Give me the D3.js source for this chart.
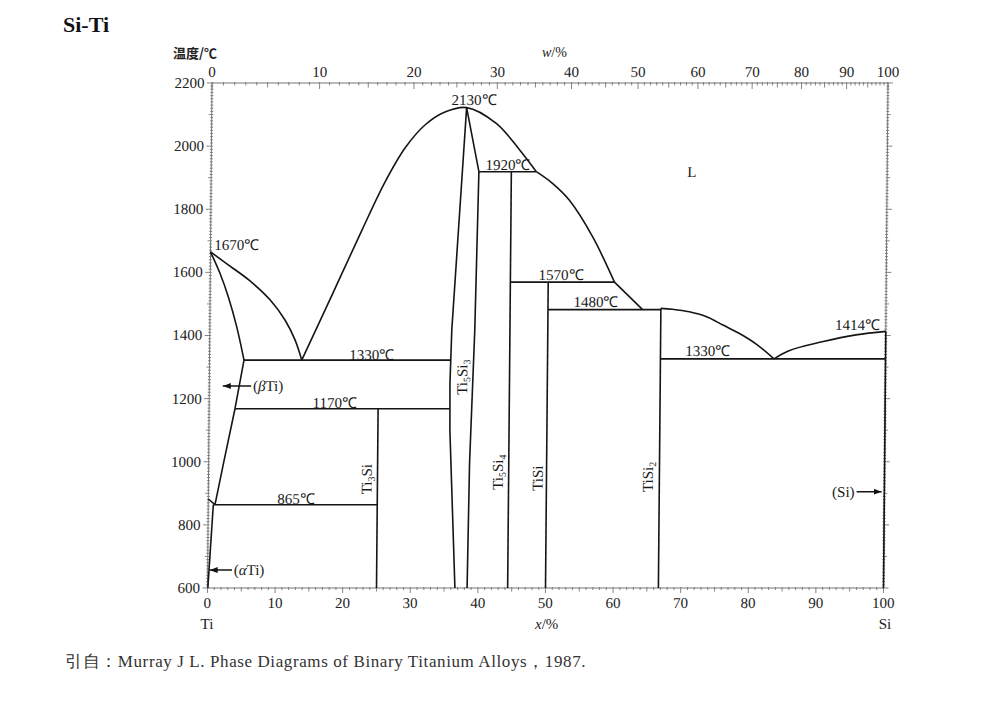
<!DOCTYPE html>
<html><head><meta charset="utf-8">
<script src="https://cdn.jsdelivr.net/npm/d3@7/dist/d3.min.js"></script>
<style>body{margin:0;background:#fff}svg{display:block}</style>
</head><body>
<svg id="c" width="1000" height="709"></svg>
<script>
// ---------- data (atomic % Si, temperature °C) ----------
const tempTicks = [600, 800, 1000, 1200, 1400, 1600, 1800, 2000, 2200];
const atTicks = [0, 10, 20, 30, 40, 50, 60, 70, 80, 90, 100];
const wtTicks = [0, 10, 20, 30, 40, 50, 60, 70, 80, 90, 100];

const liquidusTi   = [[0,1665],[2.9,1620],[5.88,1573],[8.87,1513],[11.11,1449],[12.62,1386],[13.64,1322]];
const solidusBeta  = [[0,1665],[1.43,1597],[2.69,1523],[3.97,1428],[5.1,1322]];
const solvusBeta   = [[5.1,1322],[3.83,1168],[2.2,995],[1.0,864]];
const transusTi    = [[0,882],[1.0,864]];
const solvusAlpha  = [[0.75,864],[0.05,600]];
const liquidusDome = [[13.64,1322],[18.03,1528],[22.38,1734],[25.72,1886],[28.64,1994],[31.56,2067],[34.5,2108],[37.7,2122],[42.1,2072],[45.6,1988],[48.1,1919]];
const liquidusMid  = [[48.1,1919],[50.5,1882],[53.0,1829],[56.5,1713],[59.8,1569]];
const liquidusLow  = [[59.8,1569],[64.0,1482]];
const liquidusSi2  = [[66.7,1486],[68.4,1483],[70.9,1475],[73.4,1460],[75.9,1433],[78.3,1407],[80.9,1372],[83.5,1326]];
const liquidusSi   = [[83.5,1326],[85.7,1352],[90.6,1380],[95.6,1402],[100,1413]];
const ti5si3Left   = [[37.7,2122],[35.8,1418],[35.6,1250],[35.65,1100],[36.6,600]];
const ti5si3Right  = [[37.7,2122],[39.6,1919],[39.2,1418],[38.6,995],[38.4,600]];

// vertical compound lines: [x, Ttop, Tbottom]
const verticals = [[25,1168,600],[44.4,1919,600],[50,1569,600],[66.7,1486,600],[100,1413,600]];
// invariant horizontals: [T, x1, x2]
const horizontals = [[1322,5.1,35.6],[1168,3.83,35.6],[864,0.75,25],[1919,39.6,48.1],[1569,44.4,59.8],[1482,50,66.7],[1326,66.7,100]];

// temperature annotations: [text, x, T]
const tempLabels = [["1670℃",3.9,1687],["2130℃",38.8,2146],["1920℃",43.9,1940],["1570℃",51.9,1592],
  ["1480℃",57.1,1506],["1330℃",24.0,1338],["1170℃",18.6,1186],["865℃",13.0,882],
  ["1330℃",73.7,1352],["1414℃",95.8,1433],["L",71.1,1918]];
// phase names (rotated): [name, x, T]
const compoundLabels = [["Ti3Si",23.4,945],["Ti5Si3",37.4,1268],["Ti5Si4",42.8,967],["TiSi",48.7,948],["TiSi2",65.0,952]];
// arrow labels: [text, textX, T, arrowFrom, arrowTo, anchor]
const arrowLabels = [["(βTi)",6.46,1240,6.2,2.0,"start"],["(αTi)",3.85,657,3.6,0.3,"start"],["(Si)",95.6,905,95.9,99.6,"end"]];

// ---------- drawing ----------
const SERIF = "'Liberation Serif','Times New Roman',serif";
const svg = d3.select("#c");
const x = d3.scaleLinear().domain([0,100]).range([207.5,883.5]);
const y = d3.scaleLinear().domain([600,2200]).range([588,83]);
const MSi = 28.0855, MTi = 47.867;
const wToAt = w => w === 100 ? 100 : 100*(w/MSi)/((w/MSi)+((100-w)/MTi));
const xw = w => x(wToAt(w));

svg.append("defs").append("marker").attr("id","ah").attr("viewBox","0 0 8 6")
  .attr("refX",8).attr("refY",3).attr("markerWidth",8).attr("markerHeight",6)
  .attr("markerUnits","userSpaceOnUse").attr("orient","auto")
  .append("path").attr("d","M0,0L8,3L0,6Z").attr("fill","#111");

const g = svg.append("g").attr("transform","translate(0,588) skewX(-0.51) translate(0,-588)");

// frame
const axisCol = "#777";
g.append("rect").attr("x",x(0)).attr("y",y(2200)).attr("width",x(100)-x(0)).attr("height",y(600)-y(2200))
  .attr("fill","none").attr("stroke",axisCol).attr("stroke-width",1);

// ticks
const tk = g.append("g").attr("stroke",axisCol).attr("stroke-width",0.9);
d3.range(600,2201,10).forEach(t=>{
  const major = t%200===0, mid = t%100===0;
  const yy = y(t);
  tk.append("line").attr("x1",x(0)-(major?5:(mid?3:1.5))).attr("x2",x(0)+1.5).attr("y1",yy).attr("y2",yy);
  tk.append("line").attr("x1",x(100)-1.5).attr("x2",x(100)+(major?5:(mid?3:1.5))).attr("y1",yy).attr("y2",yy);
});
d3.range(0,101,1).forEach(a=>{
  const len = a%10===0?5:(a%5===0?3.5:2);
  tk.append("line").attr("x1",x(a)).attr("x2",x(a)).attr("y1",y(600)-1).attr("y2",y(600)+len);
});
d3.range(0,101,1).forEach(w=>{
  const len = w%10===0?6:(w%5===0?4.5:2.5);
  tk.append("line").attr("x1",xw(w)).attr("x2",xw(w)).attr("y1",y(2200)-1).attr("y2",y(2200)+len);
});

// tick labels
const tl = g.append("g").attr("font-family",SERIF).attr("font-size",15).attr("fill","#222");
tempTicks.forEach(t=>tl.append("text").attr("x",x(0)-7.5).attr("y",y(t)+5).attr("text-anchor","end").text(t));
atTicks.forEach(a=>tl.append("text").attr("x",x(a)).attr("y",y(600)+20).attr("text-anchor","middle").text(a));
wtTicks.forEach(w=>tl.append("text").attr("x",xw(w)).attr("y",y(2200)-6).attr("text-anchor","middle").text(w));

// phase boundaries
const ink = "#151515";
const curve = d3.line().x(d=>x(d[0])).y(d=>y(d[1])).curve(d3.curveCatmullRom.alpha(0.5));
const poly = d3.line().x(d=>x(d[0])).y(d=>y(d[1]));
const pg = g.append("g").attr("fill","none").attr("stroke",ink).attr("stroke-width",1.6).attr("stroke-linejoin","round");
[liquidusTi, solidusBeta, liquidusDome, liquidusMid, liquidusSi2, liquidusSi].forEach(d=>pg.append("path").attr("d",curve(d)));
[solvusBeta, transusTi, solvusAlpha, liquidusLow, ti5si3Left, ti5si3Right].forEach(d=>pg.append("path").attr("d",poly(d)));
verticals.forEach(v=>pg.append("line").attr("x1",x(v[0])).attr("x2",x(v[0])).attr("y1",y(v[1])).attr("y2",y(v[2])));
horizontals.forEach(h=>pg.append("line").attr("x1",x(h[1])).attr("x2",x(h[2])).attr("y1",y(h[0])).attr("y2",y(h[0])));

// temperature labels
const la = g.append("g").attr("font-family",SERIF).attr("font-size",15).attr("fill","#1a1a1a");
tempLabels.forEach(l=>la.append("text").attr("x",x(l[1])).attr("y",y(l[2])).attr("text-anchor","middle")
  .attr("dominant-baseline","central").text(l[0]));

// compound labels, rotated, digits as subscripts
compoundLabels.forEach(c=>{
  const t = la.append("text").attr("transform",`translate(${x(c[1])},${y(c[2])}) rotate(-90)`)
    .attr("text-anchor","middle").attr("dominant-baseline","central");
  const parts = c[0].split(/(\d+)/).filter(s=>s.length);
  let sub=false;
  parts.forEach(p=>{
    const isNum = /^\d+$/.test(p);
    const ts = t.append("tspan").text(p);
    if (isNum && !sub){ ts.attr("dy",4).attr("font-size",10); sub=true; }
    else if (!isNum && sub){ ts.attr("dy",-4); sub=false; }
  });
});

// arrow labels
arrowLabels.forEach(a=>{
  const t = la.append("text").attr("x",x(a[1])).attr("y",y(a[2])).attr("text-anchor",a[5]).attr("dominant-baseline","central");
  const m = a[0].match(/^\((.)(.*)\)$/);
  if (m && (m[1]==="β"||m[1]==="α")){
    t.append("tspan").text("(");
    t.append("tspan").attr("font-style","italic").text(m[1]);
    t.append("tspan").text(m[2]+")");
  } else t.text(a[0]);
  la.append("line").attr("x1",x(a[3])).attr("x2",x(a[4])).attr("y1",y(a[2])).attr("y2",y(a[2]))
    .attr("stroke",ink).attr("stroke-width",1.3).attr("marker-end","url(#ah)");
});

// axis titles and element names
const at = svg.append("g").attr("font-family",SERIF).attr("fill","#222");
at.append("text").attr("x",173).attr("y",58).attr("font-family","'Noto Sans CJK SC',sans-serif").attr("font-size",13).attr("font-weight",700).text("温度/℃");
const wl = at.append("text").attr("x",542).attr("y",57).attr("font-size",14);
wl.append("tspan").attr("font-style","italic").text("w");
wl.append("tspan").text("/%");
const xl = at.append("text").attr("x",535).attr("y",629).attr("font-size",15);
xl.append("tspan").attr("font-style","italic").text("x");
xl.append("tspan").text("/%");
at.append("text").attr("x",207).attr("y",629).attr("text-anchor","middle").attr("font-size",15).text("Ti");
at.append("text").attr("x",885).attr("y",629).attr("text-anchor","middle").attr("font-size",15).text("Si");

// title and source
svg.append("text").attr("x",63).attr("y",32).attr("font-family",SERIF).attr("font-weight",700).attr("font-size",22).attr("fill","#111").text("Si-Ti");
svg.append("text").attr("x",65).attr("y",667).attr("font-family",SERIF).attr("font-size",17).attr("fill","#333")
  .attr("letter-spacing",0.6).text("引自：Murray J L. Phase Diagrams of Binary Titanium Alloys，1987.");
</script>
</body></html>
